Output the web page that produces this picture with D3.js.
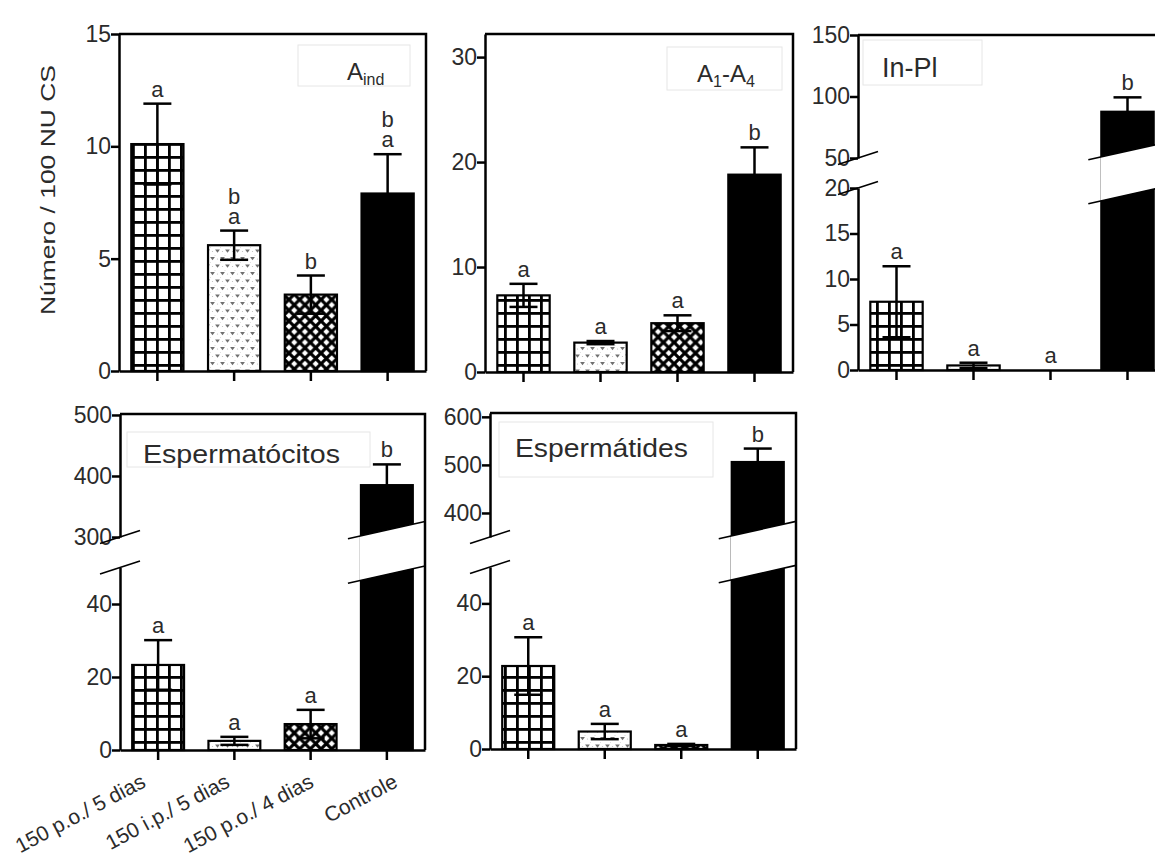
<!DOCTYPE html>
<html lang="pt">
<head>
<meta charset="utf-8">
<title>Número / 100 NU CS</title>
<script src="https://cdn.jsdelivr.net/npm/d3@7"></script>
<style>
  body { margin: 0; background: #fff; }
  text { font-family: "Liberation Sans", Arial, sans-serif; fill: #2b2b2b; }
</style>
</head>
<body>
<script>

// grupos (eixo x)
var groups = ["150 p.o./ 5 dias", "150 i.p./ 5 dias", "150 p.o./ 4 dias", "Controle"];

// A ind
var aindMean = [10.1, 5.6, 3.4, 7.9];
var aindErr = [1.8, 0.65, 0.85, 1.75];
var aindLetters = [["a"], ["a", "b"], ["b"], ["a", "b"]];

// A1-A4
var a14Mean = [7.3, 2.8, 4.65, 18.8];
var a14Err = [1.1, 0.15, 0.75, 2.6];
var a14Letters = [["a"], ["a"], ["a"], ["b"]];

// In-Pl
var inplMean = [7.5, 0.5, 0, 87.6];
var inplErr = [3.9, 0.3, 0, 11.7];
var inplLetters = [["a"], ["a"], ["a"], ["b"]];

// Espermatócitos
var citMean = [23.3, 2.5, 7.1, 385];
var citErr = [6.8, 1.1, 3.9, 34];
var citLetters = [["a"], ["a"], ["a"], ["b"]];

// Espermátides
var tidMean = [22.8, 4.8, 1.1, 506];
var tidErr = [7.9, 2.1, 0.3, 28];
var tidLetters = [["a"], ["a"], ["a"], ["b"]];

// ticks
var aindTicks = [0, 5, 10, 15];
var a14Ticks = [0, 10, 20, 30];
var inplLowTicks = [0, 5, 10, 15, 20], inplUpTicks = [50, 100, 150];
var citLowTicks = [0, 20, 40], citUpTicks = [300, 400, 500];
var tidLowTicks = [0, 20, 40], tidUpTicks = [400, 500, 600];

var fills = ["url(#grid)", "url(#stipple)", "url(#diamond)", "#000"];

var w = 1155, h = 856;

var svg = d3.select("body").append("svg")
    .attr("width", w)
    .attr("height", h);

svg.append("rect").attr("width", w).attr("height", h).attr("fill", "#fff");

// patterns
var defs = svg.append("defs");

var grid = defs.append("pattern").attr("id", "grid")
    .attr("patternUnits", "userSpaceOnUse")
    .attr("width", 12).attr("height", 13);
grid.append("rect").attr("width", 12).attr("height", 13).attr("fill", "#fff");
grid.append("rect").attr("width", 2.8).attr("height", 13).attr("fill", "#000");
grid.append("rect").attr("width", 12).attr("height", 2.8).attr("fill", "#000");

var stip = defs.append("pattern").attr("id", "stipple")
    .attr("patternUnits", "userSpaceOnUse")
    .attr("width", 10).attr("height", 15);
stip.append("rect").attr("width", 10).attr("height", 15).attr("fill", "#fff");
[[2.5, 3.5], [7.5, 11]].forEach(function(p) {
  stip.append("path")
      .attr("d", "M" + (p[0] - 2.4) + "," + (p[1] - 1.4) + "L" + p[0] + "," + (p[1] + 1.8) + "L" + (p[0] + 2.4) + "," + (p[1] - 1.4) + "Z")
      .attr("fill", "#6f6f6f");
});
[[7.5, 4], [2.5, 11.5], [0, 7.5], [5, 0]].forEach(function(p) {
  stip.append("circle").attr("cx", p[0]).attr("cy", p[1]).attr("r", 0.6).attr("fill", "#bbb");
});

var ds = 10.7;
var dia = defs.append("pattern").attr("id", "diamond")
    .attr("patternUnits", "userSpaceOnUse")
    .attr("width", ds).attr("height", ds);
dia.append("rect").attr("width", ds).attr("height", ds).attr("fill", "#fff");
dia.append("path").attr("d", "M0,0L" + ds + "," + ds + "M" + ds + ",0L0," + ds)
    .attr("stroke", "#000").attr("stroke-width", 3.2);

var panels = [
  { mean: aindMean, err: aindErr, letters: aindLetters, x0: 119, x1: 426, y0: 371, yTop: 34,
    low: [0, 15], lowTicks: aindTicks, legend: { x: 298, y: 45, w: 112, h: 41, tx: 347, ty: 80, main: "A", sub: "ind", size: 24 } },
  { mean: a14Mean, err: a14Err, letters: a14Letters, x0: 485, x1: 793, y0: 372, yTop: 34,
    low: [0, 32.2], lowTicks: a14Ticks, legend: { x: 667, y: 47, w: 115, h: 43, tx: 697, ty: 82, main: "A", sub: "1", rest: "-A", sub2: "4", size: 24 } },
  { mean: inplMean, err: inplErr, letters: inplLetters, x0: 858, x1: 1166, y0: 370, yTop: 35,
    low: [0, 20], yl: 188, up: [50, 150], yu: 158, lowTicks: inplLowTicks, upTicks: inplUpTicks,
    legend: { x: 863, y: 40, w: 119, h: 45, tx: 882, ty: 77, main: "In-Pl", size: 27 } },
  { mean: citMean, err: citErr, letters: citLetters, x0: 120, x1: 425, y0: 750, yTop: 414,
    low: [0, 50], yl: 567.5, up: [300, 501.6], yu: 537, lowTicks: citLowTicks, upTicks: citUpTicks,
    legend: { x: 127, y: 432, w: 243, h: 35, tx: 143, ty: 463, main: "Espermatócitos", size: 26, len: 197 } },
  { mean: tidMean, err: tidErr, letters: tidLetters, x0: 490, x1: 796, y0: 749, yTop: 413,
    low: [0, 50], yl: 567, up: [350, 608], yu: 537, lowTicks: tidLowTicks, upTicks: tidUpTicks,
    legend: { x: 499, y: 422, w: 214, h: 55, tx: 515, ty: 457, main: "Espermátides", size: 26, len: 173 } }
];

var lw = 2.5;

panels.forEach(function(p) {
  var g = svg.append("g");

  var x = d3.scaleBand().domain(groups).range([p.x0, p.x1]).paddingInner(0.32).paddingOuter(0.16);

  var yLow = d3.scaleLinear().domain(p.low).range([p.y0, p.up ? p.yl : p.yTop]);
  var yUp = p.up ? d3.scaleLinear().domain(p.up).range([p.yu, p.yTop]) : null;
  var y = function(v) { return (!yUp || v <= p.low[1]) ? yLow(v) : yUp(v); };

  // legend box
  var L = p.legend;
  g.append("rect").attr("x", L.x).attr("y", L.y).attr("width", L.w).attr("height", L.h)
      .attr("fill", "none").attr("stroke", "#e6e6e6").attr("stroke-width", 1);
  var lt = g.append("text").attr("x", L.tx).attr("y", L.ty).attr("font-size", L.size);
  if (L.len) lt.attr("textLength", L.len).attr("lengthAdjust", "spacingAndGlyphs");
  lt.append("tspan").text(L.main);
  if (L.sub) lt.append("tspan").attr("font-size", 16).attr("dy", 5).text(L.sub);
  if (L.rest) lt.append("tspan").attr("dy", -5).text(L.rest);
  if (L.sub2) lt.append("tspan").attr("font-size", 16).attr("dy", 5).text(L.sub2);

  var data = groups.map(function(d, i) {
    return { g: d, i: i, m: p.mean[i], e: p.err[i], l: p.letters[i] };
  });

  // bars
  g.selectAll(".bar").data(data).enter().append("rect")
      .attr("x", function(d) { return x(d.g); })
      .attr("y", function(d) { return y(d.m); })
      .attr("width", x.bandwidth())
      .attr("height", function(d) { return p.y0 - y(d.m); })
      .attr("fill", function(d) { return fills[d.i]; })
      .attr("stroke", "#000")
      .attr("stroke-width", 2.2);

  // error bars
  var cap = 14;
  var eb = g.selectAll(".err").data(data.filter(function(d) { return d.e > 0; })).enter().append("g")
      .attr("stroke", "#000").attr("stroke-width", lw);
  eb.append("line")
      .attr("x1", function(d) { return x(d.g) + x.bandwidth() / 2; })
      .attr("x2", function(d) { return x(d.g) + x.bandwidth() / 2; })
      .attr("y1", function(d) { return y(d.m - d.e); })
      .attr("y2", function(d) { return y(d.m + d.e); });
  eb.append("line")
      .attr("x1", function(d) { return x(d.g) + x.bandwidth() / 2 - cap; })
      .attr("x2", function(d) { return x(d.g) + x.bandwidth() / 2 + cap; })
      .attr("y1", function(d) { return y(d.m + d.e); })
      .attr("y2", function(d) { return y(d.m + d.e); });
  eb.append("line")
      .attr("x1", function(d) { return x(d.g) + x.bandwidth() / 2 - cap; })
      .attr("x2", function(d) { return x(d.g) + x.bandwidth() / 2 + cap; })
      .attr("y1", function(d) { return y(d.m - d.e); })
      .attr("y2", function(d) { return y(d.m - d.e); });

  // break band across the control bar
  if (yUp) {
    var c = (p.yl + p.yu) / 2, hh = (p.yl - p.yu) / 2 + 7, s = -0.225;
    var xc = x(groups[3]) + x.bandwidth() / 2;
    var xa = x(groups[3]) - 1, xb = p.x1 - 1.5;
    var yt = function(xx) { return c - hh + s * (xx - xc); };
    var yb = function(xx) { return c + hh + s * (xx - xc); };
    g.append("path")
        .attr("d", "M" + xa + "," + yt(xa) + "L" + xb + "," + yt(xb) + "L" + xb + "," + yb(xb) + "L" + xa + "," + yb(xa) + "Z")
        .attr("fill", "#fff");
    var xs = x(groups[3]) - 13;
    [yt, yb].forEach(function(f) {
      g.append("line").attr("x1", xs).attr("y1", f(xs)).attr("x2", p.x1).attr("y2", f(p.x1))
          .attr("stroke", "#000").attr("stroke-width", 1.6);
    });
  }

  // letters
  data.forEach(function(d) {
    var top = y(d.m + d.e);
    d.l.forEach(function(t, k) {
      g.append("text")
          .attr("x", x(d.g) + x.bandwidth() / 2)
          .attr("y", top - 7 - k * 20)
          .attr("text-anchor", "middle")
          .attr("font-size", 22)
          .text(t);
    });
  });

  // frame
  g.append("path")
      .attr("d", "M" + p.x0 + "," + p.yTop + "H" + p.x1 + "V" + p.y0)
      .attr("fill", "none").attr("stroke", "#000").attr("stroke-width", lw);

  // axes
  var styleAxis = function(a) {
    a.select(".domain").attr("stroke-width", lw);
    a.selectAll(".tick line").attr("stroke-width", lw);
    a.selectAll(".tick text").attr("font-size", 23).attr("fill", "#2b2b2b")
        .attr("font-family", "'Liberation Sans', Arial, sans-serif");
  };

  var xa1 = g.append("g").attr("transform", "translate(0," + p.y0 + ")")
      .call(d3.axisBottom(x).tickSize(10).tickSizeOuter(0).tickFormat(""));
  styleAxis(xa1);

  var ya1 = g.append("g").attr("transform", "translate(" + p.x0 + ",0)")
      .call(d3.axisLeft(yLow).tickValues(p.lowTicks).tickSize(8).tickPadding(0).tickSizeOuter(0));
  styleAxis(ya1);

  if (yUp) {
    var ya2 = g.append("g").attr("transform", "translate(" + p.x0 + ",0)")
        .call(d3.axisLeft(yUp).tickValues(p.upTicks).tickSize(8).tickPadding(0).tickSizeOuter(0));
    styleAxis(ya2);
    // axis break slashes
    [p.yu, p.yl].forEach(function(yy) {
      g.append("line")
          .attr("x1", p.x0 - 20).attr("y1", yy + 20 * 0.33)
          .attr("x2", p.x0 + 20).attr("y2", yy - 20 * 0.33)
          .attr("stroke", "#000").attr("stroke-width", 1.6);
    });
  }

  // category labels under the bottom-left panel
  if (p === panels[3]) {
    var xl = d3.scalePoint().domain(groups).range([p.x0 + 27, p.x0 + 279]);
    g.selectAll(".xl").data(groups).enter().append("text")
        .attr("transform", function(d) { return "translate(" + xl(d) + ",786) rotate(-28)"; })
        .attr("text-anchor", "end")
        .attr("font-size", 21)
        .text(function(d) { return d; });
  }
});

// y title
svg.append("text")
    .attr("transform", "translate(55,190) rotate(-90)")
    .attr("text-anchor", "middle")
    .attr("font-size", 21)
    .attr("textLength", 250)
    .attr("lengthAdjust", "spacingAndGlyphs")
    .attr("fill", "#3a3a3a")
    .text("Número / 100 NU CS");

</script>
</body>
</html>
